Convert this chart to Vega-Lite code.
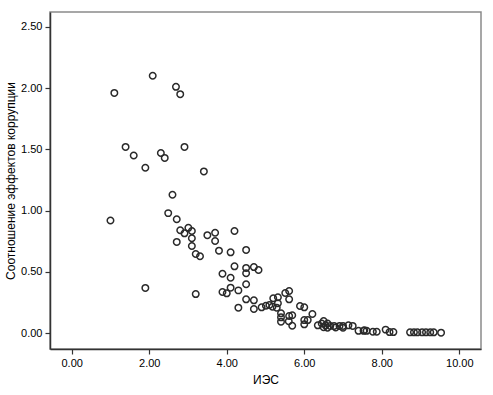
{
  "$schema": "https://vega.github.io/schema/vega-lite/v6.json",
  "width": 431,
  "height": 337,
  "autosize": "none",
  "padding": {"left": 50, "top": 12, "right": 12, "bottom": 46},
  "background": "white",
  "config": {
    "view": {"stroke": "#8a8a8a", "strokeWidth": 1.5},
    "font": "Liberation Sans"
  },
  "data": {
    "values": [
      {"x": 1.00, "y": 0.92}, {"x": 1.10, "y": 1.96}, {"x": 1.39, "y": 1.52}, {"x": 1.60, "y": 1.45},
      {"x": 1.90, "y": 1.35}, {"x": 1.90, "y": 0.37}, {"x": 2.09, "y": 2.10}, {"x": 2.30, "y": 1.47},
      {"x": 2.40, "y": 1.43}, {"x": 2.49, "y": 0.98}, {"x": 2.60, "y": 1.13}, {"x": 2.69, "y": 2.01},
      {"x": 2.71, "y": 0.93}, {"x": 2.71, "y": 0.745}, {"x": 2.80, "y": 1.95}, {"x": 2.80, "y": 0.84},
      {"x": 2.91, "y": 1.52}, {"x": 2.91, "y": 0.815}, {"x": 3.01, "y": 0.86}, {"x": 3.10, "y": 0.834},
      {"x": 3.10, "y": 0.775}, {"x": 3.10, "y": 0.712}, {"x": 3.20, "y": 0.647}, {"x": 3.20, "y": 0.32},
      {"x": 3.31, "y": 0.628}, {"x": 3.41, "y": 1.32}, {"x": 3.50, "y": 0.80}, {"x": 3.70, "y": 0.82},
      {"x": 3.70, "y": 0.753}, {"x": 3.80, "y": 0.674}, {"x": 3.89, "y": 0.486}, {"x": 3.89, "y": 0.337},
      {"x": 4.00, "y": 0.326}, {"x": 4.10, "y": 0.66}, {"x": 4.10, "y": 0.453}, {"x": 4.10, "y": 0.372},
      {"x": 4.20, "y": 0.834}, {"x": 4.20, "y": 0.546}, {"x": 4.30, "y": 0.35}, {"x": 4.30, "y": 0.209},
      {"x": 4.50, "y": 0.68}, {"x": 4.50, "y": 0.533}, {"x": 4.50, "y": 0.49}, {"x": 4.50, "y": 0.40},
      {"x": 4.50, "y": 0.277}, {"x": 4.70, "y": 0.54}, {"x": 4.70, "y": 0.269}, {"x": 4.70, "y": 0.198},
      {"x": 4.82, "y": 0.516}, {"x": 4.90, "y": 0.212}, {"x": 5.01, "y": 0.225}, {"x": 5.10, "y": 0.231},
      {"x": 5.18, "y": 0.217}, {"x": 5.20, "y": 0.285}, {"x": 5.29, "y": 0.209}, {"x": 5.32, "y": 0.294},
      {"x": 5.32, "y": 0.245}, {"x": 5.40, "y": 0.163}, {"x": 5.40, "y": 0.13}, {"x": 5.40, "y": 0.095},
      {"x": 5.51, "y": 0.329}, {"x": 5.61, "y": 0.345}, {"x": 5.61, "y": 0.277}, {"x": 5.61, "y": 0.141},
      {"x": 5.60, "y": 0.098}, {"x": 5.69, "y": 0.147}, {"x": 5.69, "y": 0.062}, {"x": 5.89, "y": 0.223},
      {"x": 6.00, "y": 0.212}, {"x": 6.00, "y": 0.108}, {"x": 6.09, "y": 0.108}, {"x": 6.00, "y": 0.073},
      {"x": 6.21, "y": 0.157}, {"x": 6.35, "y": 0.065}, {"x": 6.45, "y": 0.08}, {"x": 6.50, "y": 0.05},
      {"x": 6.50, "y": 0.10}, {"x": 6.55, "y": 0.065}, {"x": 6.60, "y": 0.08}, {"x": 6.60, "y": 0.045},
      {"x": 6.67, "y": 0.06}, {"x": 6.77, "y": 0.06}, {"x": 6.81, "y": 0.048}, {"x": 6.91, "y": 0.06},
      {"x": 7.00, "y": 0.045}, {"x": 7.00, "y": 0.06}, {"x": 7.14, "y": 0.065}, {"x": 7.25, "y": 0.06},
      {"x": 7.40, "y": 0.02}, {"x": 7.53, "y": 0.02}, {"x": 7.61, "y": 0.02}, {"x": 7.55, "y": 0.025},
      {"x": 7.77, "y": 0.013}, {"x": 7.87, "y": 0.013}, {"x": 8.10, "y": 0.03}, {"x": 8.20, "y": 0.01},
      {"x": 8.30, "y": 0.01}, {"x": 8.73, "y": 0.008}, {"x": 8.83, "y": 0.008}, {"x": 8.92, "y": 0.008},
      {"x": 9.04, "y": 0.008}, {"x": 9.14, "y": 0.008}, {"x": 9.25, "y": 0.008}, {"x": 9.34, "y": 0.008},
      {"x": 9.53, "y": 0.005}
    ]
  },
  "mark": {"type": "point", "shape": "circle", "filled": false, "stroke": "#2a2a2a", "strokeWidth": 1.5, "size": 42, "opacity": 1},
  "encoding": {
    "x": {
      "field": "x", "type": "quantitative", "title": "ИЭС",
      "scale": {"domain": [-0.56, 10.56], "nice": false, "zero": false},
      "axis": {
        "values": [0, 2, 4, 6, 8, 10], "format": ".2f", "grid": false,
        "domainColor": "#333", "domainWidth": 1.5, "tickColor": "#333", "tickSize": 5, "tickWidth": 1.2,
        "labelFont": "Liberation Sans", "labelFontSize": 11, "labelColor": "#000", "labelPadding": 3,
        "titleFont": "Liberation Sans", "titleFontSize": 12, "titleFontWeight": "normal", "titleColor": "#000", "titlePadding": 6
      }
    },
    "y": {
      "field": "y", "type": "quantitative", "title": "Соотношение эффектов коррупции",
      "scale": {"domain": [-0.128, 2.62], "nice": false, "zero": false},
      "axis": {
        "values": [0, 0.5, 1, 1.5, 2, 2.5], "format": ".2f", "grid": false,
        "domainColor": "#333", "domainWidth": 1.5, "tickColor": "#333", "tickSize": 5, "tickWidth": 1.2,
        "labelFont": "Liberation Sans", "labelFontSize": 11, "labelColor": "#000", "labelPadding": 3,
        "titleFont": "Liberation Sans", "titleFontSize": 12, "titleFontWeight": "normal", "titleColor": "#000", "titlePadding": 3
      }
    }
  }
}
